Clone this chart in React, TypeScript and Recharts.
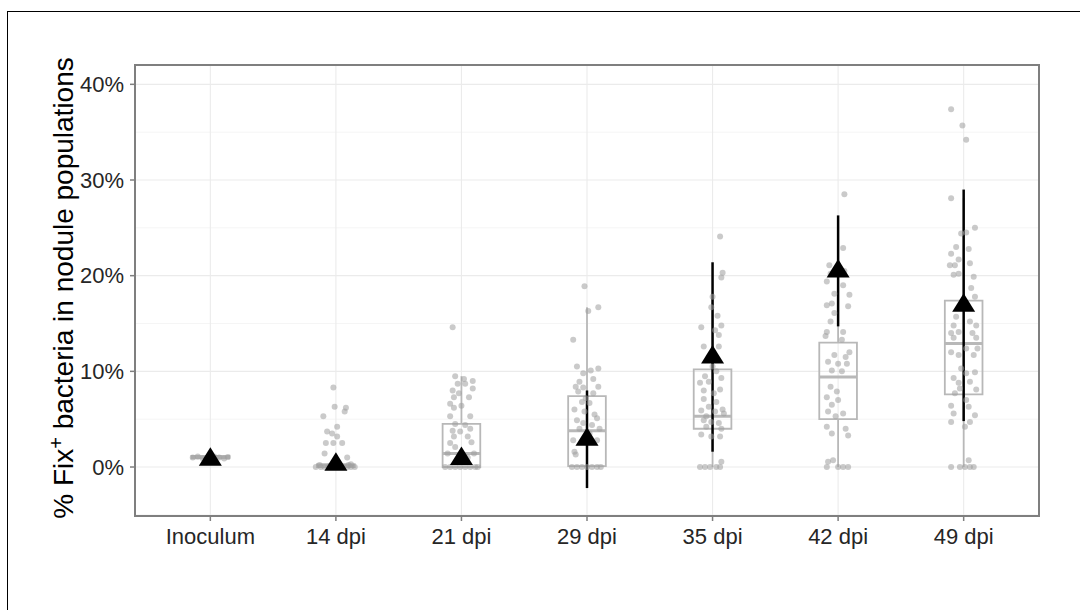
import React from 'react'
import { ScatterChart, Scatter, XAxis, YAxis, CartesianGrid, ReferenceArea, ReferenceLine, ErrorBar } from 'recharts'

const categories = ['Inoculum', '14 dpi', '21 dpi', '29 dpi', '35 dpi', '42 dpi', '49 dpi']

// boxplot stats per category (%)
const boxLow = [0.8, 0, 0, 0, 0, 0, 0]
const boxQ1 = [0.9, 0, 0, 0.1, 4.0, 5.0, 7.6]
const boxMedian = [1.0, 0.1, 1.4, 3.8, 5.3, 9.4, 12.9]
const boxQ3 = [1.15, 0.3, 4.5, 7.4, 10.2, 13.0, 17.4]
const boxHigh = [1.3, 0.7, 9.5, 16.7, 17.8, 22.9, 28.1]

// triangles with error bars
const means = [0.8, 0.3, 0.9, 2.9, 11.5, 20.5, 16.9]
const meanErr = [0, 0.3, 0.6, 5.1, 9.9, 5.8, 12.1]

// jittered observations: [value %, jitter]
const obsInoculum = [
  [1.0, -0.14], [1.1, -0.1], [0.9, -0.06], [1.0, -0.02], [1.1, 0.03], [1.0, 0.07], [0.9, 0.11], [1.05, 0.14],
]
const obs14 = [
  [8.3, -0.02], [6.3, -0.01], [6.2, 0.08], [5.8, 0.07], [5.3, -0.1], [4.2, 0.01], [3.7, -0.07], [3.5, -0.03],
  [3.2, 0.01], [2.5, -0.08], [2.5, -0.02], [2.5, 0.05], [1.4, -0.09], [1.0, 0.09], [0.3, 0.12], [0.2, -0.13],
  [0.1, 0.04], [0.1, -0.05], [0.2, 0.1], [0, -0.16], [0, -0.12], [0, -0.09], [0, -0.06], [0, -0.03], [0, 0],
  [0, 0.03], [0, 0.06], [0, 0.09], [0, 0.12], [0, 0.15],
]
const obs21 = [
  [14.6, -0.07], [9.5, -0.05], [9.2, 0.02], [9.0, 0.09], [8.7, -0.03], [8.7, 0.03], [8.2, 0.09], [8.0, -0.07],
  [7.7, -0.02], [7.3, -0.06], [7.3, 0.06], [6.6, -0.09], [6.2, -0.06], [6.4, 0], [5.3, -0.09], [5.3, 0.07],
  [4.5, -0.05], [4.4, 0.03], [4.0, 0.07], [3.8, -0.07], [3.7, -0.01], [3.2, -0.06], [3.2, 0.05], [2.5, -0.09],
  [2.6, 0.08], [2.1, -0.05], [1.4, -0.11], [1.4, 0.1], [1.0, 0.05], [0.5, -0.03], [0, -0.13], [0, -0.09],
  [0, -0.05], [0, -0.01], [0, 0.03], [0, 0.07], [0, 0.11], [0, 0.13],
]
const obs29 = [
  [18.9, -0.02], [16.7, 0.09], [16.3, 0.01], [13.3, -0.11], [10.5, -0.08], [10.1, 0.03], [10.3, 0.09], [9.8, -0.03],
  [9.2, 0.05], [8.9, -0.06], [8.4, -0.09], [8.3, -0.03], [8.4, 0.09], [7.9, -0.07], [7.7, 0.05], [7.2, -0.01],
  [6.8, -0.04], [6.7, 0.02], [6.0, -0.1], [5.8, -0.02], [5.5, 0.06], [5.1, 0.08], [4.9, -0.08], [4.6, -0.03],
  [4.4, 0.04], [4.0, -0.06], [4.0, 0.1], [3.5, 0.02], [2.8, -0.11], [2.8, 0.08], [1.6, -0.1], [1.3, -0.09],
  [0, -0.12], [0, -0.08], [0, -0.04], [0, 0], [0, 0.04], [0, 0.08], [0, 0.11],
]
const obs35 = [
  [24.1, 0.06], [20.3, 0.08], [19.8, 0.07], [17.8, 0], [16.7, -0.01], [15.8, 0.04], [14.8, 0.07], [14.6, -0.09],
  [14.3, 0.02], [13.8, 0.05], [12.6, -0.07], [12.6, 0.05], [11.4, -0.03], [10.5, 0], [10.0, 0.03], [9.5, -0.06],
  [9.3, 0.07], [8.8, -0.1], [8.9, -0.03], [8.0, -0.07], [8.1, 0.06], [7.7, 0.01], [7.1, -0.07], [6.8, 0.03],
  [6.3, -0.03], [6.0, 0.08], [5.9, -0.09], [5.8, 0.02], [5.6, 0.09], [5.3, -0.05], [4.9, -0.07], [4.7, -0.01],
  [4.6, 0.05], [4.2, -0.05], [4.0, 0.07], [3.4, -0.09], [3.2, -0.01], [3.2, 0.06], [0.55, 0.07], [0, -0.1],
  [0, -0.06], [0, -0.02], [0, 0.03], [0, 0.06],
]
const obs42 = [
  [28.5, 0.05], [22.9, 0.04], [21.1, -0.07], [20.5, 0.05], [20.2, -0.06], [19.4, -0.09], [19.0, 0.04], [18.1, -0.03],
  [18.0, 0.09], [16.9, -0.09], [17.1, -0.05], [16.8, 0.08], [16.1, -0.03], [15.2, -0.06], [14.1, -0.09], [14.1, 0.04],
  [13.7, -0.1], [13.3, 0.03], [12.0, 0.09], [11.7, -0.03], [11.5, 0.06], [11.0, -0.08], [10.8, 0], [10.8, 0.07],
  [10.1, -0.05], [10.0, 0.03], [8.4, -0.06], [7.9, -0.01], [7.3, -0.09], [7.0, 0], [6.5, -0.05], [5.8, -0.08],
  [5.6, 0.04], [5.3, -0.02], [4.2, -0.09], [4.0, 0.06], [3.5, -0.05], [3.3, 0.08], [0.7, -0.04], [0.55, -0.08],
  [0, -0.09], [0, 0], [0, 0.04], [0, 0.08],
]
const obs49 = [
  [37.4, -0.1], [35.7, -0.01], [34.2, 0.02], [28.1, -0.1], [25.0, 0.09], [24.4, -0.02], [24.5, 0.02], [23.0, -0.06],
  [22.8, 0.04], [22.3, -0.1], [21.7, -0.04], [21.1, -0.11], [21.1, -0.07], [21.3, 0.05], [20.1, -0.08], [20.2, -0.04],
  [19.9, 0.08], [18.7, 0.06], [17.8, 0.09], [15.7, -0.06], [15.2, 0.05], [14.8, -0.08], [14.8, 0.1], [14.0, -0.1],
  [14.1, -0.04], [14.0, 0.07], [13.5, -0.08], [13.5, 0.1], [12.0, -0.1], [12.4, 0.02], [12.4, 0.11], [11.7, -0.04],
  [11.7, 0.08], [10.3, -0.02], [9.8, 0.02], [9.9, 0.09], [9.3, -0.08], [8.8, -0.04], [8.9, 0.05], [8.2, -0.03],
  [8.1, 0.1], [7.7, -0.07], [7.0, 0.02], [6.4, -0.1], [6.3, 0.04], [5.6, -0.08], [5.4, 0.09], [4.7, -0.1],
  [4.7, 0.05], [4.2, 0.01], [0.7, 0.04], [0, -0.1], [0, -0.03], [0, 0.01], [0, 0.05], [0, 0.08],
]

const yTicks = [0, 10, 20, 30, 40]
const yMinor = [-5, 5, 15, 25, 35]

const observations = [obsInoculum, obs14, obs21, obs29, obs35, obs42, obs49]

const points = observations.flatMap((group, i) => group.map(([v, j]) => ({ x: i + 1 + j, y: v })))
const meanData = means.map((m, i) => ({ x: i + 1, y: m, err: meanErr[i] }))
const xIdx = categories.map((_, i) => i + 1)

const BOX_HALF = 0.15
const BOX_COLOR = '#b8b8b8'

const Dot = (props: any) => <circle cx={props.cx} cy={props.cy} r={3} fill="#9e9e9e" fillOpacity={0.55} />

const Triangle = (props: any) => {
  const { cx, cy } = props
  return <polygon points={`${cx},${cy - 12} ${cx - 11.5},${cy + 6.5} ${cx + 11.5},${cy + 6.5}`} fill="#000" />
}

const YLabel = () => (
  <text transform="translate(73,288) rotate(-90)" textAnchor="middle" fontSize={28} fill="#000">
    <tspan>% Fix</tspan>
    <tspan dy={-10} fontSize={20}>+</tspan>
    <tspan dy={10}> bacteria in nodule populations</tspan>
  </text>
)

const App: React.FC = () => {
  return (
    <div style={{ position: 'absolute', left: 0, top: 0, width: 1080, height: 610, background: '#fff', fontFamily: '"Liberation Sans", Arial, sans-serif' }}>
      <div style={{ position: 'absolute', left: 7, top: 11, width: 1073, height: 599, borderTop: '1px solid #000', borderLeft: '1px solid #000' }} />
      <div style={{ position: 'absolute', left: 0, top: 0 }}>
        <ScatterChart width={1080} height={610} margin={{ top: 65, right: 41, bottom: 54, left: 75 }}>
          <CartesianGrid vertical={false} horizontalValues={yMinor} stroke="#f2f2f2" strokeWidth={0.8} />
          <CartesianGrid horizontalValues={yTicks} verticalValues={xIdx} stroke="#ebebeb" strokeWidth={1.1} />
          <XAxis
            type="number"
            dataKey="x"
            domain={[0.4, 7.6]}
            ticks={xIdx}
            allowDataOverflow
            tickFormatter={(v) => categories[v - 1]}
            tick={{ fontSize: 22, fill: '#262626' }}
            tickLine={{ stroke: '#7f7f7f', strokeWidth: 1.5 }}
            tickSize={5}
            tickMargin={7}
            axisLine={false}
            height={40}
          />
          <YAxis
            type="number"
            dataKey="y"
            domain={[-5.12, 42.02]}
            ticks={yTicks}
            allowDataOverflow
            tickFormatter={(v) => `${v}%`}
            tick={{ fontSize: 22, fill: '#262626' }}
            tickLine={{ stroke: '#7f7f7f', strokeWidth: 1.5 }}
            tickSize={5}
            tickMargin={6}
            axisLine={false}
            width={60}
            label={{ content: YLabel }}
          />
          {categories.map((c, i) => (
            <ReferenceLine key={`wl-${c}`} segment={[{ x: i + 1, y: boxLow[i] }, { x: i + 1, y: boxQ1[i] }]} stroke={BOX_COLOR} strokeWidth={1.8} />
          ))}
          {categories.map((c, i) => (
            <ReferenceLine key={`wh-${c}`} segment={[{ x: i + 1, y: boxQ3[i] }, { x: i + 1, y: boxHigh[i] }]} stroke={BOX_COLOR} strokeWidth={1.8} />
          ))}
          {categories.map((c, i) => (
            <ReferenceArea key={`box-${c}`} x1={i + 1 - BOX_HALF} x2={i + 1 + BOX_HALF} y1={boxQ1[i]} y2={boxQ3[i]} fill="none" stroke={BOX_COLOR} strokeWidth={1.8} />
          ))}
          {categories.map((c, i) => (
            <ReferenceLine key={`med-${c}`} segment={[{ x: i + 1 - BOX_HALF, y: boxMedian[i] }, { x: i + 1 + BOX_HALF, y: boxMedian[i] }]} stroke={BOX_COLOR} strokeWidth={3} />
          ))}
          <Scatter data={points} dataKey="y" shape={Dot} isAnimationActive={false} />
          <Scatter data={meanData} dataKey="y" shape={Triangle} isAnimationActive={false}>
            <ErrorBar dataKey="err" direction="y" width={0} stroke="#000" strokeWidth={2.5} />
          </Scatter>
          <ReferenceArea x1={0.4} x2={7.6} y1={-5.12} y2={42.02} fill="none" stroke="#7f7f7f" strokeWidth={2} ifOverflow="visible" />
        </ScatterChart>
      </div>
    </div>
  )
}

export default App
